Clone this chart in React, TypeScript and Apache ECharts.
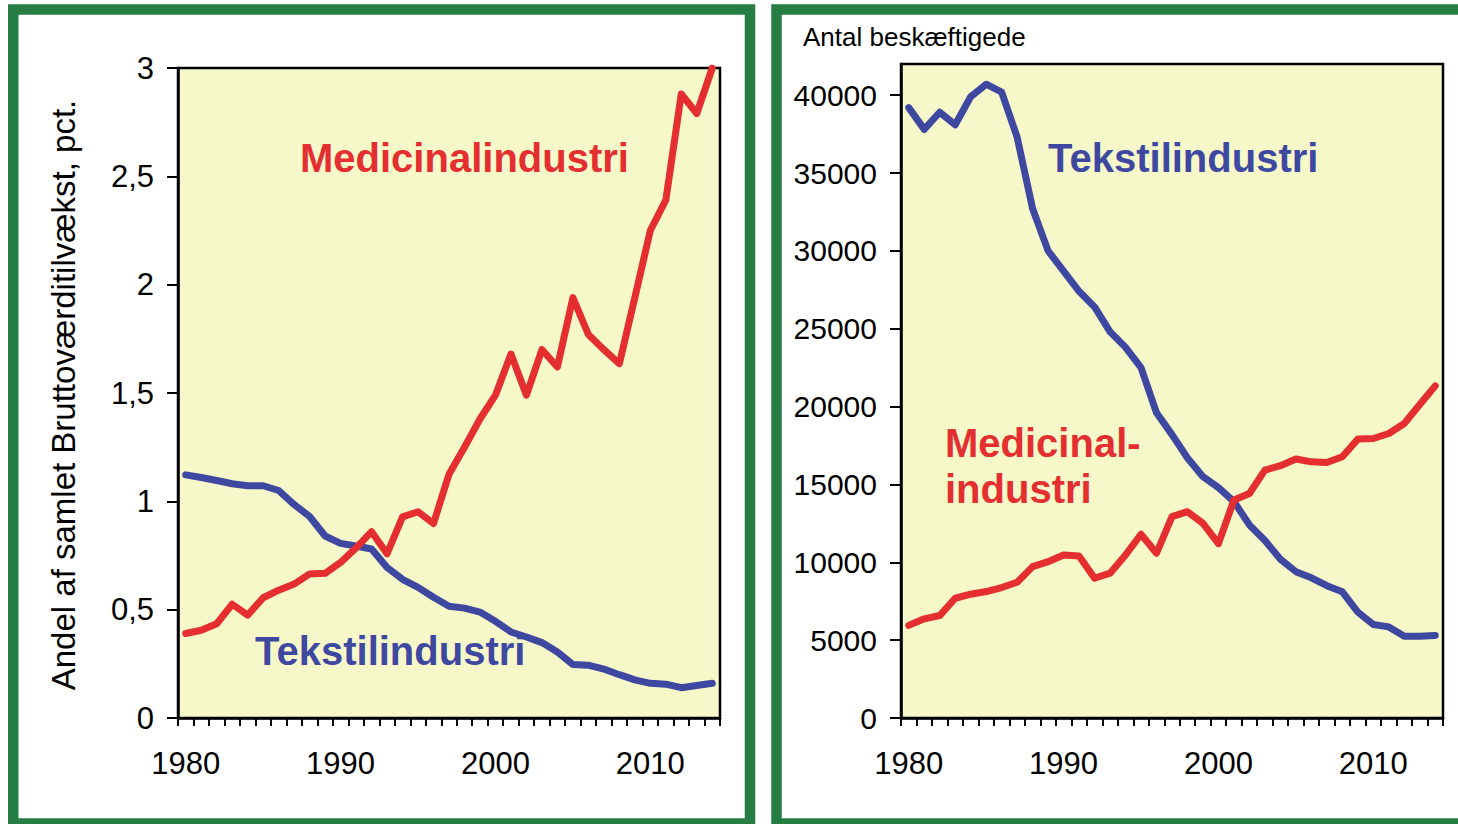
import React, { useEffect, useRef } from "react";
import * as echarts from "echarts";

const years = [
  "1980", "1981", "1982", "1983", "1984", "1985", "1986", "1987", "1988", "1989",
  "1990", "1991", "1992", "1993", "1994", "1995", "1996", "1997", "1998", "1999",
  "2000", "2001", "2002", "2003", "2004", "2005", "2006", "2007", "2008", "2009",
  "2010", "2011", "2012", "2013", "2014",
];

// Left panel: share of total gross value added growth, pct.
const leftMedicinal = [
  0.39, 0.405, 0.435, 0.525, 0.475, 0.555, 0.59, 0.618, 0.665, 0.668,
  0.718, 0.785, 0.86, 0.758, 0.928, 0.952, 0.898, 1.125, 1.25, 1.38,
  1.49, 1.68, 1.49, 1.7, 1.62, 1.94, 1.77, 1.7, 1.635, 1.94,
  2.25, 2.39, 2.88, 2.79, 3.0,
];
const leftTekstil = [
  1.122, 1.11, 1.096, 1.081, 1.072, 1.072, 1.05, 0.985, 0.93, 0.84,
  0.806, 0.794, 0.78, 0.695, 0.64, 0.603, 0.557, 0.516, 0.507, 0.489,
  0.446, 0.397, 0.374, 0.348, 0.305, 0.247, 0.244, 0.226, 0.2, 0.176,
  0.16, 0.156, 0.14, 0.15, 0.16,
];

// Right panel: number of employed
const rightTekstil = [
  39200, 37800, 38900, 38100, 39900, 40700, 40200, 37300, 32700, 30000,
  28700, 27400, 26400, 24800, 23800, 22500, 19600, 18200, 16700, 15500,
  14800, 13900, 12400, 11400, 10200, 9400, 9000, 8500, 8100, 6800,
  6000, 5850, 5250, 5250, 5300,
];
const rightMedicinal = [
  5950, 6370, 6580, 7690, 7950, 8120, 8380, 8720, 9720, 10040,
  10470, 10400, 8975, 9300, 10470, 11800, 10580, 12930, 13250, 12500,
  11200, 14000, 14420, 15920, 16200, 16630, 16450, 16410, 16780, 17910,
  17950, 18270, 18910, 20130, 21330,
];

const rightTickValues = [0, 5000, 10000, 15000, 20000, 25000, 30000, 35000, 40000];

const FONT = "'Liberation Sans', Arial, Helvetica, sans-serif";
const RED = "#E42E2F";
const BLUE = "#3F48A1";
const GREEN = "#267D44";
const PLOT_BG = "#F7F8CA";

function makeX(gridIndex: number) {
  return {
    type: "category",
    gridIndex,
    data: years,
    boundaryGap: true,
    axisLine: { show: true, lineStyle: { color: "#000", width: 2.5 } },
    axisTick: { show: true, interval: 0, length: 8, inside: false, lineStyle: { color: "#000", width: 2 } },
    axisLabel: {
      interval: (_i: number, v: string) => Number(v) % 10 === 0,
      margin: 30,
      fontSize: 31,
      fontFamily: FONT,
      color: "#000",
    },
    splitLine: { show: false },
  };
}

export default function App() {
  const ref = useRef<HTMLDivElement>(null);

  useEffect(() => {
    if (!ref.current) return;
    const chart = echarts.init(ref.current, undefined, { renderer: "svg" });
    const option: any = {
      animation: false,
      backgroundColor: "#fff",
      grid: [
        {
          left: 178, top: 68, width: 542, bottom: 106,
          show: true, backgroundColor: PLOT_BG, borderColor: "#000", borderWidth: 2.5,
        },
        {
          left: 901, top: 64, width: 542, bottom: 106,
          show: true, backgroundColor: PLOT_BG, borderColor: "#000", borderWidth: 2.5,
        },
      ],
      xAxis: [makeX(0), makeX(1)],
      yAxis: [
        {
          type: "value",
          gridIndex: 0,
          min: 0,
          max: 3,
          interval: 0.5,
          axisLine: { show: true, lineStyle: { color: "#000", width: 2.5 } },
          axisTick: { show: true, length: 11, lineStyle: { color: "#000", width: 2 } },
          axisLabel: {
            margin: 24,
            fontSize: 31,
            fontFamily: FONT,
            color: "#000",
            formatter: (v: number) => String(v).replace(".", ","),
          },
          splitLine: { show: false },
        },
        {
          type: "value",
          gridIndex: 1,
          min: 0,
          max: 42000,
          interval: 5000,
          axisLine: { show: true, lineStyle: { color: "#000", width: 2.5 } },
          axisTick: {
            show: true, length: 11, customValues: rightTickValues,
            lineStyle: { color: "#000", width: 2 },
          },
          axisLabel: {
            margin: 24,
            fontSize: 30,
            fontFamily: FONT,
            color: "#000",
            customValues: rightTickValues,
            formatter: (v: number) => String(v),
          },
          splitLine: { show: false },
        },
      ],
      series: [
        {
          type: "line", xAxisIndex: 0, yAxisIndex: 0, data: leftTekstil,
          showSymbol: false, symbol: "none",
          lineStyle: { color: BLUE, width: 7, cap: "round", join: "round" },
        },
        {
          type: "line", xAxisIndex: 0, yAxisIndex: 0, data: leftMedicinal,
          showSymbol: false, symbol: "none",
          lineStyle: { color: RED, width: 7, cap: "round", join: "round" },
        },
        {
          type: "line", xAxisIndex: 1, yAxisIndex: 1, data: rightTekstil,
          showSymbol: false, symbol: "none",
          lineStyle: { color: BLUE, width: 7, cap: "round", join: "round" },
        },
        {
          type: "line", xAxisIndex: 1, yAxisIndex: 1, data: rightMedicinal,
          showSymbol: false, symbol: "none",
          lineStyle: { color: RED, width: 7, cap: "round", join: "round" },
        },
      ],
      graphic: [
        {
          type: "rect", silent: true, z: 100,
          shape: { x: 13.25, y: 9.5, width: 736.75, height: 814 },
          style: { fill: "transparent", stroke: GREEN, lineWidth: 10.5 },
        },
        {
          type: "rect", silent: true, z: 100,
          shape: { x: 776.5, y: 9.5, width: 720, height: 814 },
          style: { fill: "transparent", stroke: GREEN, lineWidth: 10.5 },
        },
        {
          type: "text", silent: true, z: 100,
          x: 63, y: 395, rotation: Math.PI / 2,
          style: {
            text: "Andel af samlet Bruttoværditilvækst, pct.",
            font: `33px ${FONT}`, fill: "#000", align: "center", verticalAlign: "middle",
          },
        },
        {
          type: "text", silent: true, z: 100,
          x: 803, y: 37,
          style: {
            text: "Antal beskæftigede",
            font: `26px ${FONT}`, fill: "#000", align: "left", verticalAlign: "middle",
          },
        },
        {
          type: "text", silent: true, z: 100,
          x: 300, y: 158,
          style: {
            text: "Medicinalindustri",
            font: `bold 40px ${FONT}`, fill: RED, align: "left", verticalAlign: "middle",
          },
        },
        {
          type: "text", silent: true, z: 100,
          x: 255, y: 651,
          style: {
            text: "Tekstilindustri",
            font: `bold 40px ${FONT}`, fill: BLUE, align: "left", verticalAlign: "middle",
          },
        },
        {
          type: "text", silent: true, z: 100,
          x: 1048, y: 158,
          style: {
            text: "Tekstilindustri",
            font: `bold 40px ${FONT}`, fill: BLUE, align: "left", verticalAlign: "middle",
          },
        },
        {
          type: "text", silent: true, z: 100,
          x: 945, y: 443,
          style: {
            text: "Medicinal-",
            font: `bold 40px ${FONT}`, fill: RED, align: "left", verticalAlign: "middle",
          },
        },
        {
          type: "text", silent: true, z: 100,
          x: 945, y: 489,
          style: {
            text: "industri",
            font: `bold 40px ${FONT}`, fill: RED, align: "left", verticalAlign: "middle",
          },
        },
      ],
    };
    chart.setOption(option);
    return () => chart.dispose();
  }, []);

  return (
    <div
      ref={ref}
      style={{ position: "fixed", left: 0, top: 0, width: 1458, height: 824, background: "#fff" }}
    />
  );
}
